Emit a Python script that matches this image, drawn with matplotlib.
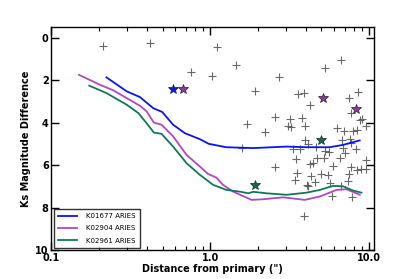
import numpy as np
import matplotlib
matplotlib.use('Agg')
import matplotlib.pyplot as plt
from matplotlib.ticker import FixedLocator, FixedFormatter, LogLocator, NullFormatter

# contrast curves (separation in arcsec, delta Ks)
k01677_sep = [0.222, 0.298, 0.361, 0.437, 0.498, 0.583, 0.692, 0.859, 0.977,
              1.26, 1.86, 3.01, 4.03, 5.64, 6.84, 8.71]
k01677_dm = [1.87, 2.53, 2.80, 3.32, 3.50, 4.10, 4.50, 4.78, 5.00,
             5.16, 5.20, 5.13, 5.16, 5.16, 5.05, 4.84]

k02904_sep = [0.149, 0.202, 0.245, 0.298, 0.361, 0.397, 0.441, 0.493, 0.583,
              0.708, 0.859, 0.968, 1.09, 1.20, 1.39, 1.82, 2.15, 2.87, 3.93,
              4.89, 6.22, 7.19, 8.71]
k02904_dm = [1.75, 2.22, 2.48, 2.85, 3.21, 3.47, 4.00, 4.10, 4.65,
             5.52, 6.07, 6.42, 6.59, 6.93, 7.25, 7.64, 7.61, 7.52, 7.64,
             7.48, 7.17, 7.14, 7.40]

k02961_sep = [0.173, 0.222, 0.298, 0.352, 0.397, 0.441, 0.493, 0.583, 0.708,
              0.859, 1.04, 1.26, 1.53, 1.73, 1.86, 2.26, 3.01, 4.03, 4.89,
              5.92, 6.84, 7.91, 8.93]
k02961_dm = [2.26, 2.61, 3.16, 3.55, 4.03, 4.47, 4.53, 5.13, 5.91,
             6.46, 6.93, 7.17, 7.25, 7.33, 7.26, 7.33, 7.40, 7.30, 7.17,
             6.98, 7.00, 7.20, 7.30]

# detected companions (stars)
blue_star_sep = [0.583]
blue_star_dm = [2.42]
purple_star_sep = [0.668, 5.08, 8.22]
purple_star_dm = [2.42, 2.85, 3.36]
green_star_sep = [5.0, 1.90]
green_star_dm = [4.84, 6.93]

# background sources (crosses)
cross_sep = [0.212, 0.416, 1.10, 0.750, 1.02, 1.44, 2.71, 1.90, 6.68, 5.27,
             3.57, 3.87, 4.26, 7.48, 8.53, 7.67, 8.78, 9.01, 2.57, 3.16,
             3.79, 1.71, 2.22, 3.09, 3.23, 3.93, 6.27, 6.97, 7.93, 8.38,
             9.51, 3.93, 4.10, 6.75, 7.54, 7.64, 1.58, 3.30, 3.68, 4.61,
             5.25, 5.56, 6.84, 8.30, 7.06, 3.48, 4.66, 5.17, 6.52, 9.58,
             2.55, 4.23, 4.40, 5.92, 7.73, 8.38, 8.81, 9.51, 3.52, 4.33,
             5.00, 5.51, 7.50, 3.40, 4.57, 5.64, 7.38, 4.03, 4.12, 6.68,
             5.87, 7.84, 3.88]
cross_dm = [0.41, 0.25, 0.44, 1.64, 1.82, 1.31, 1.85, 2.52, 1.07, 1.43,
            2.64, 2.61, 3.16, 2.83, 2.57, 3.54, 3.89, 3.81, 3.74, 3.82,
            3.79, 4.06, 4.45, 4.15, 4.22, 4.18, 4.27, 4.41, 4.39, 4.33,
            4.18, 4.84, 5.00, 4.81, 4.76, 4.97, 5.20, 5.24, 5.24, 5.16,
            5.35, 5.39, 5.20, 5.24, 5.44, 5.73, 5.67, 5.65, 5.67, 5.77,
            6.10, 5.97, 5.88, 6.06, 6.08, 6.23, 6.18, 6.20, 6.39, 6.52,
            6.43, 6.46, 6.42, 6.70, 6.79, 6.86, 6.75, 6.93, 7.00, 6.98,
            7.47, 7.49, 8.41]

xticks = [0.1, 1.0, 10.0]
xtick_labels = ['0.1', '1.0', '10.0']
yticks = [0, 2, 4, 6, 8, 10]

blue = '#0a14f0'
purple = '#b048c0'
green = '#10785a'

plt.rcParams['font.family'] = 'DejaVu Sans'
fig = plt.figure(figsize=(4.15, 2.79), dpi=100)
ax = fig.add_axes([0.124, 0.104, 0.777, 0.799])

ax.plot(cross_sep, cross_dm, '+', color='#444444', ms=6, mew=0.8, alpha=0.8, zorder=2)

ax.plot(k01677_sep, k01677_dm, color=blue, lw=1.3, label='K01677 ARIES', zorder=3)
ax.plot(k02904_sep, k02904_dm, color=purple, lw=1.3, label='K02904 ARIES', zorder=3)
ax.plot(k02961_sep, k02961_dm, color=green, lw=1.3, label='K02961 ARIES', zorder=3)

ax.plot(blue_star_sep, blue_star_dm, '*', color=blue, mec='#222222', mew=0.5, ms=7.5, zorder=4)
ax.plot(purple_star_sep, purple_star_dm, '*', color='#8e3c9e', mec='#222222', mew=0.5, ms=7.5, zorder=4)
ax.plot(green_star_sep, green_star_dm, '*', color='#0f6e4e', mec='#222222', mew=0.5, ms=7.5, zorder=4)

ax.set_xscale('log')
ax.set_xlim(0.1, 10.7)
ax.set_ylim(10, -0.5)

ax.xaxis.set_major_locator(FixedLocator(xticks))
ax.xaxis.set_major_formatter(FixedFormatter(xtick_labels))
ax.xaxis.set_minor_locator(LogLocator(base=10, subs=np.arange(2, 10)))
ax.xaxis.set_minor_formatter(NullFormatter())
ax.set_yticks(yticks)

ax.tick_params(which='major', direction='in', length=6, width=1,
               top=True, right=True, labelsize=7, pad=2)
ax.tick_params(which='minor', direction='in', length=3, width=0.8, top=True)
for lab in ax.get_xticklabels() + ax.get_yticklabels():
    lab.set_fontweight('bold')
for sp in ax.spines.values():
    sp.set_linewidth(1.0)

ax.set_xlabel('Distance from primary (")', fontsize=7, fontweight='bold', labelpad=1)
ax.set_ylabel('Ks Magnitude Difference', fontsize=7, fontweight='bold', labelpad=3)

leg = ax.legend(loc='lower left', fontsize=5, frameon=True, fancybox=False,
                borderaxespad=0.3, handlelength=2.8, handletextpad=1.3,
                labelspacing=0.9, borderpad=0.6)
leg.get_frame().set_edgecolor('black')
leg.get_frame().set_linewidth(1.0)

fig.savefig('out.png', dpi=100)
